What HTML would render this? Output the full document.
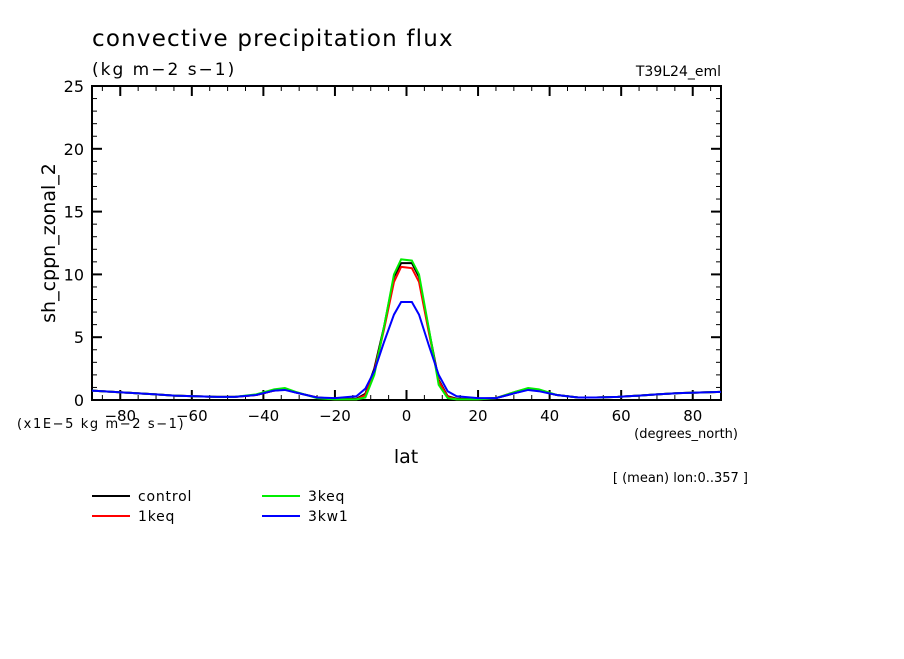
<!DOCTYPE html>
<html><head><meta charset="utf-8"><style>
body{margin:0;background:#fff}
svg text{font-family:"DejaVu Sans","Liberation Sans",sans-serif;fill:#000}
</style></head><body>
<svg id="chart" width="904" height="654" xmlns="http://www.w3.org/2000/svg">
<text x="92" y="46" font-size="23" letter-spacing="1.2">convective precipitation flux</text>
<text x="92" y="75" font-size="17" letter-spacing="2">(kg m−2 s−1)</text>
<text x="721" y="76" font-size="14" text-anchor="end">T39L24_eml</text>
<text x="17" y="428" font-size="13" letter-spacing="1.6">(x1E−5 kg m−2 s−1)</text>
<text x="738" y="438" font-size="13" text-anchor="end">(degrees_north)</text>
<text x="406" y="463" font-size="19" text-anchor="middle">lat</text>
<text x="55" y="243" font-size="19" text-anchor="middle" transform="rotate(-90 55 243)">sh_cppn_zonal_2</text>
<text x="748" y="482" font-size="13" text-anchor="end">[ (mean) lon:0..357 ]</text>
<g id="axes"></g>
<g id="series"></g>
<g id="legend"></g>
</svg>
<script>
const lats=[-87.9,-82,-76,-70,-65,-59,-53,-48,-42,-37,-34,-31,-25,-20,-14,-11.5,-9,-6.3,-3.5,-1.5,1.5,3.5,6.3,9,11.5,14,20,25,31,34,37,42,48,53,59,65,70,76,82,87.9];
const control=[0.75,0.65,0.55,0.45,0.35,0.3,0.25,0.25,0.4,0.75,0.85,0.6,0.2,0.1,0.1,0.5,2.5,5.8,9.8,10.9,10.9,9.8,5.5,1.6,0.3,0.1,0.1,0.15,0.6,0.85,0.75,0.4,0.2,0.2,0.25,0.35,0.45,0.55,0.6,0.65];
const keq1=[0.75,0.65,0.55,0.45,0.35,0.3,0.25,0.25,0.4,0.75,0.85,0.6,0.2,0.05,0.05,0.4,2.3,5.6,9.4,10.6,10.5,9.4,5.3,1.5,0.25,0.05,0.05,0.15,0.7,0.9,0.75,0.4,0.2,0.2,0.25,0.35,0.45,0.55,0.6,0.65];
const keq3=[0.75,0.65,0.55,0.45,0.35,0.3,0.25,0.25,0.45,0.85,0.95,0.65,0.15,0.05,0.05,0.2,2.0,5.8,10.0,11.2,11.1,10.0,5.6,1.2,0.15,0.05,0.05,0.15,0.7,0.95,0.85,0.4,0.2,0.2,0.25,0.35,0.45,0.55,0.6,0.65];
const kw13=[0.75,0.65,0.55,0.45,0.35,0.3,0.25,0.25,0.4,0.75,0.8,0.6,0.2,0.15,0.3,0.9,2.3,4.6,6.8,7.8,7.8,6.8,4.3,2.0,0.7,0.3,0.15,0.15,0.6,0.8,0.7,0.4,0.2,0.2,0.25,0.35,0.45,0.55,0.6,0.65];
const seriesNames=["control","1keq","3keq","3kw1"];
const seriesColors=["#000","#f00","#0e0","#00f"];
const xTicks=[-80,-60,-40,-20,0,20,40,60,80];
const yTicks=[0,5,10,15,20,25];
const NS="http://www.w3.org/2000/svg";
const L=92,R=721,T=86,B=400,XMIN=-87.9,XMAX=87.9,YMAX=25;
const xs=v=>L+(v-XMIN)/(XMAX-XMIN)*(R-L);
const ys=v=>B-v/YMAX*(B-T);
function mk(t,a,p){const e=document.createElementNS(NS,t);for(const k in a)e.setAttribute(k,a[k]);p.appendChild(e);return e;}
const ax=document.getElementById('axes');
const fr=mk('rect',{x:L,y:T,width:R-L,height:B-T,fill:'none',stroke:'#000','stroke-width':2},ax);


for(let v=-85;v<=85;v+=5){const x=xs(v);const big=v%20===0;const h=big?10:5;
mk('line',{x1:x,x2:x,y1:B,y2:B-h,stroke:'#000','stroke-width':big?2:1},ax);
mk('line',{x1:x,x2:x,y1:T,y2:T+h,stroke:'#000','stroke-width':big?2:1},ax);}
for(let v=0;v<=25;v++){const y=ys(v);const big=v%5===0;const h=big?10:5;
mk('line',{x1:L,x2:L+h,y1:y,y2:y,stroke:'#000','stroke-width':big?2:1},ax);
mk('line',{x1:R,x2:R-h,y1:y,y2:y,stroke:'#000','stroke-width':big?2:1},ax);}
xTicks.forEach(v=>{const t=mk('text',{x:xs(v),y:B+21,'font-size':15,'text-anchor':'middle'},ax);t.textContent=(v<0?'−':'')+Math.abs(v);

});
yTicks.forEach(v=>{const t=mk('text',{x:L-8,y:ys(v)+6,'font-size':16,'text-anchor':'end'},ax);t.textContent=v;

});
const sg=document.getElementById('series');
[control,keq1,keq3,kw13].forEach((d,i)=>{
const p=mk('polyline',{points:d.map((v,j)=>xs(lats[j])+','+ys(v)).join(' '),fill:'none',stroke:seriesColors[i],'stroke-width':2},sg);

});
const lg=document.getElementById('legend');
const pos=[[92,496],[92,516],[262,496],[262,516]];
seriesNames.forEach((n,i)=>{const [x,y]=pos[i];
const g=mk('g',{},lg);


mk('line',{x1:x,x2:x+38,y1:y,y2:y,stroke:seriesColors[i],'stroke-width':2},g);
const t=mk('text',{x:x+46,y:y+5,'font-size':14,'letter-spacing':0.8},g);t.textContent=n;});
</script>
</body></html>
